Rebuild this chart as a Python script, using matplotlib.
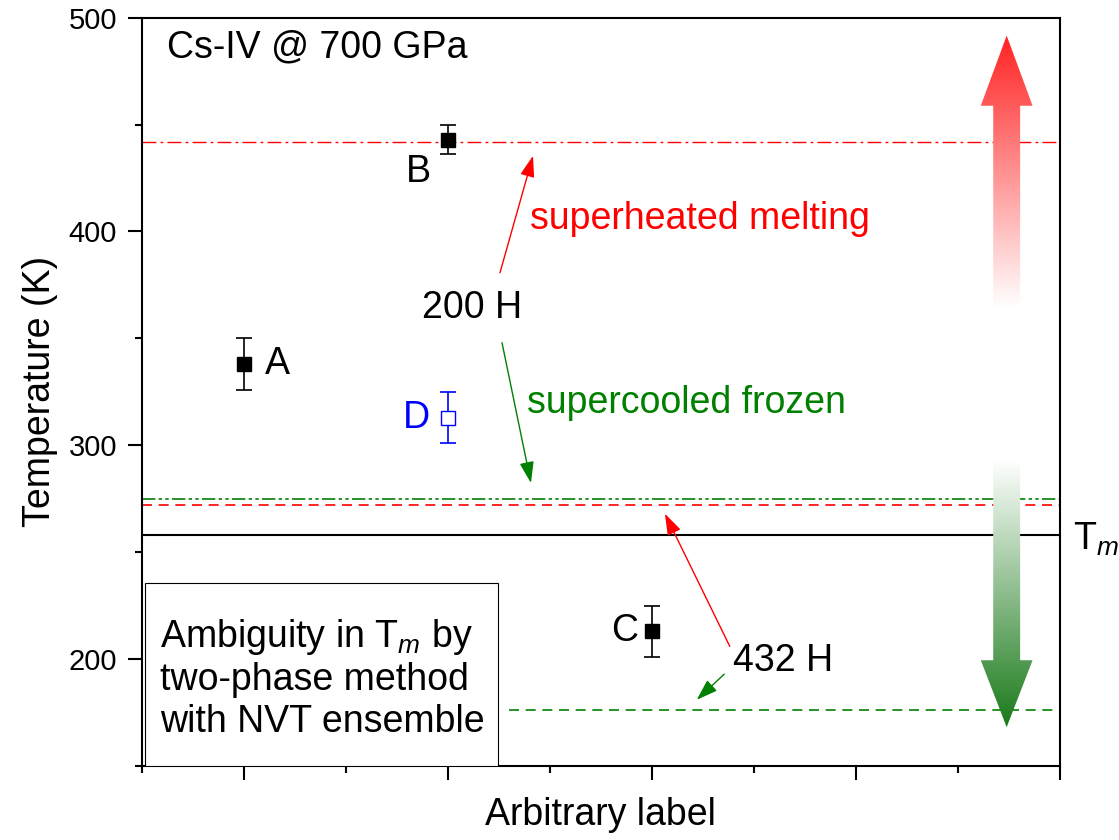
import numpy as np
import matplotlib
matplotlib.use("Agg")
import matplotlib.pyplot as plt
from matplotlib.colors import LinearSegmentedColormap
from matplotlib.patches import Polygon, Rectangle

plt.rcParams['font.family'] = ['Liberation Sans', 'DejaVu Sans']
plt.rcParams['mathtext.fontset'] = 'custom'
plt.rcParams['mathtext.rm'] = 'Liberation Sans'
plt.rcParams['mathtext.it'] = 'Liberation Sans:italic'

# data
labels = ['A', 'B', 'C']
pos = [1, 2, 3]
temp = [338, 443, 213]
err = [12, 7, 12]

d_pos = [2]
d_temp = [313]
d_err = [12]

# reference temperatures (K)
t_superheat = 442     # red dash-dot, 200 H
t_supercool = 275     # green dash-dot-dot, 200 H
t_red_432 = 272       # red dashed, 432 H
t_melt = 258          # black solid, Tm
t_green_432 = 176     # green dashed, 432 H

fs = 27

fig = plt.figure(figsize=(11.19, 8.4), dpi=100)
ax = fig.add_axes([0.127, 0.088, 0.820, 0.891])

# horizontal reference lines
ax.axhline(t_superheat, color='red', lw=1, ls=(0, (10, 3, 2, 3)), zorder=1)
ax.axhline(t_supercool, color='green', lw=1.2, ls=(0, (8, 2, 2, 2, 2, 2)), zorder=1)
ax.axhline(t_red_432, color='red', lw=1.2, ls=(0, (6, 4)), zorder=1)
ax.axhline(t_melt, color='black', lw=1.5, zorder=1)
ax.plot([2.3, 5.0], [t_green_432, t_green_432], color='green', lw=1.2, ls=(0, (6, 4)), zorder=1)

# data points
ax.errorbar(pos, temp, yerr=err, fmt='s', color='black', ms=10, capsize=6,
            elinewidth=1.2, capthick=1.2, zorder=4)
ax.errorbar(d_pos, d_temp, yerr=d_err, fmt='s', color='blue', mfc='white', mec='blue',
            ms=10, capsize=6, elinewidth=1.2, capthick=1.2, zorder=4)

ax.text(1.10, 338, 'A', fontsize=fs, ha='left', va='center')
ax.text(1.853, 428, 'B', fontsize=fs, ha='center', va='center')
ax.text(2.868, 213, 'C', fontsize=fs, ha='center', va='center')
ax.text(1.843, 313, 'D', fontsize=fs, ha='center', va='center', color='blue')

ax.text(0.623, 486, 'Cs-IV @ 700 GPa', fontsize=fs, ha='left', va='center')
ax.text(2.40, 406, 'superheated melting', fontsize=fs, color='red', ha='left', va='center')
ax.text(2.12, 364, '200 H', fontsize=fs, ha='center', va='center')
ax.text(2.387, 320, 'supercooled frozen', fontsize=fs, color='green', ha='left', va='center')
ax.text(3.40, 199, '432 H', fontsize=fs, ha='left', va='center')
ax.text(5.065, 256, 'T$_{\\mathit{m}}$', fontsize=fs, ha='left', va='center', clip_on=False)

astyle = '-|>,head_length=0.65,head_width=0.22'
ax.annotate('', xy=(2.417, 435.4), xytext=(2.255, 380.7),
            arrowprops=dict(arrowstyle=astyle, color='red', lw=1, mutation_scale=20,
                            shrinkA=0, shrinkB=0))
ax.annotate('', xy=(2.407, 282.4), xytext=(2.265, 348),
            arrowprops=dict(arrowstyle=astyle, color='green', lw=1, mutation_scale=20,
                            shrinkA=0, shrinkB=0))
ax.annotate('', xy=(3.064, 268), xytext=(3.382, 206),
            arrowprops=dict(arrowstyle=astyle, color='red', lw=1, mutation_scale=20,
                            shrinkA=0, shrinkB=0))
ax.annotate('', xy=(3.22, 181), xytext=(3.355, 193),
            arrowprops=dict(arrowstyle=astyle, color='green', lw=1, mutation_scale=20,
                            shrinkA=0, shrinkB=0))

# box with note
ax.add_patch(Rectangle((0.515, 150), 2.245 - 0.515, 235.6 - 150, facecolor='white',
                       edgecolor='black', lw=0.8, zorder=5))
ax.text(0.588, 191, 'Ambiguity in T$_{\\mathit{m}}$ by\ntwo-phase method\nwith NVT ensemble',
        fontsize=fs, ha='left', va='center', zorder=6, linespacing=1.2)


# big gradient arrows
def grad_arrow(xc, y_tail, y_base, y_tip, c_tail, c_tip):
    sw, hw = 0.066, 0.127
    pts = [(xc - sw, y_tail), (xc - sw, y_base), (xc - hw, y_base), (xc, y_tip),
           (xc + hw, y_base), (xc + sw, y_base), (xc + sw, y_tail)]
    poly = Polygon(pts, closed=True, facecolor='none', edgecolor='none')
    ax.add_patch(poly)
    cmap = LinearSegmentedColormap.from_list('g', [c_tail, c_tip])
    grad = np.linspace(0, 1, 256).reshape(-1, 1)
    lo, hi = min(y_tail, y_tip), max(y_tail, y_tip)
    origin = 'lower' if y_tip > y_tail else 'upper'
    im = ax.imshow(grad, cmap=cmap, extent=[xc - hw, xc + hw, lo, hi], origin=origin,
                   aspect='auto', zorder=2, interpolation='bilinear')
    im.set_clip_path(poly)


grad_arrow(4.74, 364, 458.8, 491.6, '#ffffff', '#ff2222')
grad_arrow(4.74, 292.7, 199.5, 168.2, '#ffffff', '#1a7a1a')

ax.set_xlim(0.5, 5.0)
ax.set_ylim(150, 500)
ax.set_xticks([1, 2, 3, 4, 5])
ax.set_xticks([0.5, 1.5, 2.5, 3.5, 4.5], minor=True)
ax.set_xticklabels([])
ax.set_yticks([200, 300, 400, 500])
ax.set_yticks([150, 250, 350, 450], minor=True)
ax.tick_params(axis='both', which='major', direction='out', length=10, width=1.5,
               labelsize=21, pad=8)
ax.tick_params(axis='both', which='minor', direction='out', length=5, width=1.5)
for s in ax.spines.values():
    s.set_linewidth(1.5)

ax.set_xlabel('Arbitrary label', fontsize=fs, labelpad=4)
ax.set_ylabel('Temperature (K)', fontsize=fs, labelpad=8)

fig.savefig('out.png', dpi=100)
